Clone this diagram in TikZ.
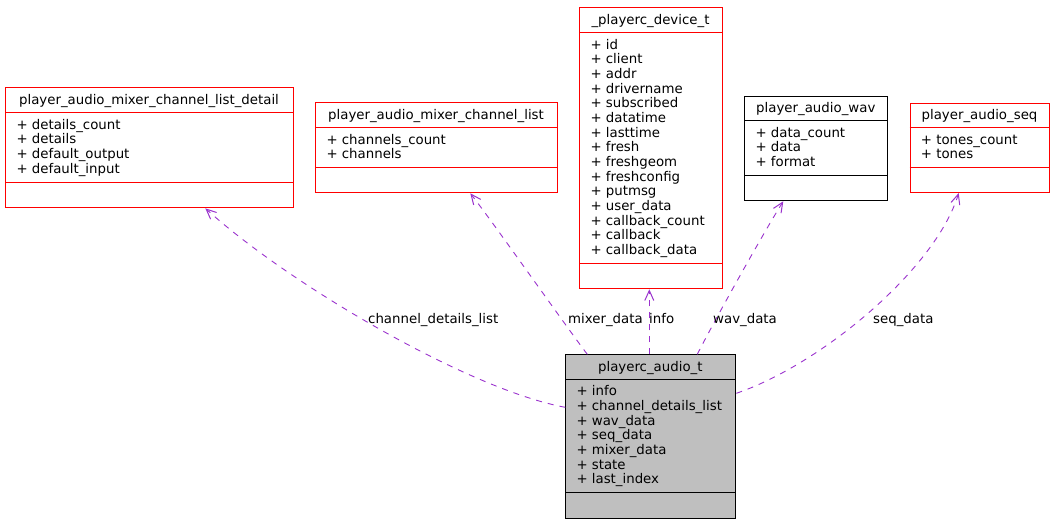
\documentclass[tikz,border=0pt]{standalone}
\usepackage{fontspec}
\setmainfont{DejaVu Sans}
\usetikzlibrary{arrows.meta,calc}
\definecolor{edgecol}{HTML}{9A32CD}
\definecolor{boxred}{HTML}{FF0000}
\definecolor{boxgray}{HTML}{BFBFBF}
\begin{document}
\begin{tikzpicture}[x=1pt,y=-1pt,
  every node/.style={font=\fontsize{13.33}{14.65}\selectfont},
  classbox/.style={draw, line width=1pt, inner sep=0pt, anchor=north west},
  titletext/.style={anchor=base, inner sep=0pt},
  attrtext/.style={anchor=base west, inner sep=0pt},
  edgelabel/.style={anchor=base west, inner sep=0pt},
  usage/.style={draw=edgecol, line width=0.9pt, dash pattern=on 6pt off 6pt,
    -{Straight Barb[length=10pt,width=9pt,line width=1pt]}}
]
\useasboundingbox (0,0) rectangle (1053,523);

% ---------- player_audio_mixer_channel_list_detail ----------
\node[classbox, draw=boxred, minimum width=287.4pt, minimum height=120pt] (detail) at (5.3,87.3) {};
\draw[boxred, line width=1pt] (5.3,112.7) -- (292.7,112.7);
\draw[boxred, line width=1pt] (5.3,182.3) -- (292.7,182.3);
\node[titletext] (detail-t) at (149,104.7) {player\_audio\_mixer\_channel\_list\_detail};
\foreach \t [count=\i] in {details\_count, details, default\_output, default\_input}
  \node[attrtext] (detail-a\i) at (16.3,{129.3+(\i-1)*14.65}) {+ \t};

% ---------- player_audio_mixer_channel_list ----------
\node[classbox, draw=boxred, minimum width=241.4pt, minimum height=90pt] (chlist) at (315.3,102.3) {};
\draw[boxred, line width=1pt] (315.3,127.3) -- (556.7,127.3);
\draw[boxred, line width=1pt] (315.3,167) -- (556.7,167);
\node[titletext] (chlist-t) at (436,119.5) {player\_audio\_mixer\_channel\_list};
\foreach \t [count=\i] in {channels\_count, channels}
  \node[attrtext] (chlist-a\i) at (326.3,{144+(\i-1)*14.65}) {+ \t};

% ---------- _playerc_device_t ----------
\node[classbox, draw=boxred, minimum width=142.4pt, minimum height=281pt] (device) at (579.3,7.3) {};
\draw[boxred, line width=1pt] (579.3,32.7) -- (721.7,32.7);
\draw[boxred, line width=1pt] (579.3,263.3) -- (721.7,263.3);
\node[titletext] (device-t) at (650.5,24.8) {\_playerc\_device\_t};
\foreach \t [count=\i] in {id, client, addr, drivername, subscribed, datatime, lasttime, fresh, freshgeom, freshconfig, putmsg, user\_data, callback\_count, callback, callback\_data}
  \node[attrtext] (device-a\i) at (590.3,{49.3+(\i-1)*14.65}) {+ \t};

% ---------- player_audio_wav ----------
\node[classbox, draw=black, minimum width=143pt, minimum height=104.6pt] (wav) at (744.3,95.7) {};
\draw[black, line width=1pt] (744.3,120.7) -- (887.3,120.7);
\draw[black, line width=1pt] (744.3,175.3) -- (887.3,175.3);
\node[titletext] (wav-t) at (815.8,112.9) {player\_audio\_wav};
\foreach \t [count=\i] in {data\_count, data, format}
  \node[attrtext] (wav-a\i) at (755.3,{137.3+(\i-1)*14.65}) {+ \t};

% ---------- player_audio_seq ----------
\node[classbox, draw=boxred, minimum width=139.6pt, minimum height=89.3pt] (seq) at (909.7,102.7) {};
\draw[boxred, line width=1pt] (909.7,127.7) -- (1049.3,127.7);
\draw[boxred, line width=1pt] (909.7,167.3) -- (1049.3,167.3);
\node[titletext] (seq-t) at (979.5,119.9) {player\_audio\_seq};
\foreach \t [count=\i] in {tones\_count, tones}
  \node[attrtext] (seq-a\i) at (920.7,{144.3+(\i-1)*14.65}) {+ \t};

% ---------- playerc_audio_t ----------
\node[classbox, draw=black, fill=boxgray, minimum width=170pt, minimum height=164pt] (audio) at (565.3,354.3) {};
\draw[black, line width=1pt] (565.3,379.3) -- (735.3,379.3);
\draw[black, line width=1pt] (565.3,492.3) -- (735.3,492.3);
\node[titletext] (audio-t) at (650.3,371.5) {playerc\_audio\_t};
\foreach \t [count=\i] in {info, channel\_details\_list, wav\_data, seq\_data, mixer\_data, state, last\_index}
  \node[attrtext] (audio-a\i) at (576.3,{395.9+(\i-1)*14.65}) {+ \t};

% ---------- connectors ----------
\draw[usage] ([yshift=-53pt]audio.north west) .. controls (470,390) and (290,285) .. ([xshift=200pt]detail.south west);
\draw[usage] ([xshift=22pt]audio.north west) .. controls (565,325) and (495,225) .. ([xshift=155pt]chlist.south west);
\draw[usage] ([xshift=84pt]audio.north west) -- ([xshift=70pt]device.south west);
\draw[usage] ([xshift=132pt]audio.north west) .. controls (712,325) and (765,230) .. ([xshift=39pt]wav.south west);
\draw[usage] ([yshift=-39pt]audio.north east) .. controls (820,365) and (935,270) .. ([xshift=49pt]seq.south west);

% ---------- connector labels ----------
\node[edgelabel] (lbl-cdl) at (368,323.5) {channel\_details\_list};
\node[edgelabel] (lbl-mixer) at (568,323.5) {mixer\_data};
\node[edgelabel] (lbl-info) at (649,323.5) {info};
\node[edgelabel] (lbl-wav) at (713,323.5) {wav\_data};
\node[edgelabel] (lbl-seq) at (873,323.5) {seq\_data};
\end{tikzpicture}
\end{document}
